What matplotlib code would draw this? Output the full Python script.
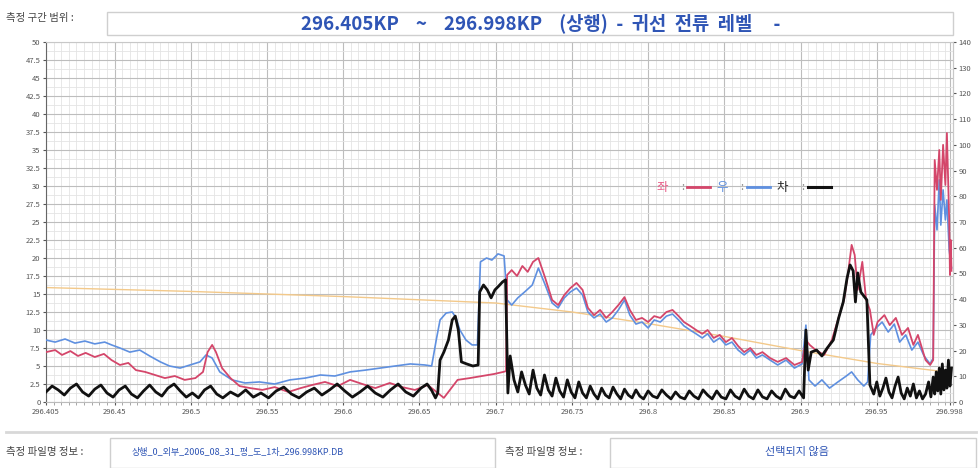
import matplotlib
matplotlib.use("Agg")
import matplotlib.pyplot as plt
from matplotlib.patches import Rectangle
from matplotlib.lines import Line2D
from matplotlib.ticker import FixedLocator, MultipleLocator, FuncFormatter

plt.rcParams['font.family'] = ['Noto Sans CJK KR', 'DejaVu Sans']

# ---- data (KP, level on the right-hand 0..140 scale) ----
red_kp = [296.405, 296.411, 296.4155, 296.421, 296.426, 296.431, 296.437, 296.443, 296.448, 296.4535,
          296.459, 296.464, 296.470, 296.4765, 296.483, 296.4895, 296.496, 296.503, 296.508, 296.511,
          296.514, 296.5165, 296.5205, 296.526, 296.532, 296.539, 296.547, 296.555, 296.564, 296.572,
          296.5795, 296.588, 296.5965, 296.6045, 296.6125, 296.621, 296.6305, 296.6385, 296.647, 296.6555,
          296.662, 296.666, 296.670, 296.675, 296.683, 296.691, 296.699, 296.705, 296.7068, 296.7075,
          296.7105, 296.714, 296.7175, 296.721, 296.7245, 296.728, 296.7325, 296.737, 296.741, 296.745,
          296.749, 296.753, 296.757, 296.7605, 296.7645, 296.7685, 296.7725, 296.7765, 296.7805, 296.7845,
          296.788, 296.792, 296.796, 296.800, 296.804, 296.808, 296.812, 296.816, 296.820, 296.8235,
          296.8275, 296.8315, 296.8355, 296.839, 296.843, 296.847, 296.851, 296.855, 296.859, 296.863,
          296.867, 296.871, 296.875, 296.880, 296.885, 296.8905, 296.896, 296.901, 296.9035, 296.906,
          296.910, 296.9155, 296.9205, 296.9245, 296.9285, 296.931, 296.9335, 296.9355, 296.9375, 296.9405,
          296.943, 296.9455, 296.948, 296.9505, 296.955, 296.9585, 296.9625, 296.9665, 296.9705, 296.974,
          296.977, 296.980, 296.982, 296.985, 296.987, 296.988, 296.9895, 296.991, 296.992, 296.9935,
          296.995, 296.996, 296.9975, 296.998, 296.9985, 296.999]
red_v = [19.4, 20.2, 18.3, 19.8, 17.9, 19.1, 17.5, 18.7, 16.3, 14.4,
         15.2, 12.4, 11.7, 10.5, 9.3, 10.1, 8.6, 9.3, 11.7, 19.4,
         22.2, 19.4, 13.2, 9.3, 6.2, 5.4, 4.7, 5.8, 3.9, 5.4,
         6.6, 7.8, 6.2, 8.6, 7.0, 5.4, 7.4, 5.8, 4.7, 6.6,
         3.5, 1.6, 4.7, 8.6, 9.3, 10.1, 10.9, 11.7, 12.0, 49.4,
         51.3, 49.0, 52.9, 50.6, 54.5, 56.0, 48.2, 39.7, 37.7, 41.6,
         44.3, 46.3, 43.6, 36.6, 33.8, 35.8, 32.7, 35.0, 37.7, 40.8,
         35.8, 31.9, 32.7, 31.1, 33.4, 32.7, 35.0, 35.8, 33.4, 31.1,
         29.6, 28.0, 26.5, 28.0, 24.9, 26.1, 23.3, 24.9, 21.8, 19.4,
         21.0, 18.3, 19.4, 17.1, 15.6, 17.1, 14.4, 15.6, 24.1, 22.2,
         20.2, 18.3, 24.1, 31.9, 39.7, 49.4, 61.1, 57.2, 43.6, 54.5,
         39.7, 35.8, 26.1, 31.1, 33.8, 29.9, 32.7, 26.1, 28.8, 22.2,
         26.1, 20.2, 16.3, 14.4, 16.3, 94.1, 82.5, 98.0, 78.6, 100.0,
         84.4, 104.6, 70.8, 49.4, 63.0, 51.0]

blue_kp = [296.405, 296.411, 296.4175, 296.424, 296.4305, 296.437, 296.4435, 296.448, 296.4535, 296.460,
           296.4665, 296.473, 296.480, 296.486, 296.493, 296.4995, 296.506, 296.510, 296.514, 296.519,
           296.527, 296.5355, 296.545, 296.555, 296.565, 296.575, 296.585, 296.5945, 296.6045, 296.6145,
           296.624, 296.634, 296.644, 296.6535, 296.658, 296.661, 296.6635, 296.6675, 296.6715, 296.674,
           296.6765, 296.6805, 296.6845, 296.688, 296.690, 296.694, 296.6975, 296.7015, 296.7055, 296.7075,
           296.7105, 296.7145, 296.719, 296.724, 296.728, 296.7325, 296.737, 296.741, 296.745, 296.749,
           296.753, 296.757, 296.7605, 296.7645, 296.7685, 296.7725, 296.7765, 296.7805, 296.7845, 296.788,
           296.792, 296.796, 296.800, 296.804, 296.808, 296.812, 296.816, 296.820, 296.8235, 296.8275,
           296.8315, 296.8355, 296.839, 296.843, 296.847, 296.851, 296.855, 296.859, 296.863, 296.867,
           296.871, 296.875, 296.880, 296.885, 296.8905, 296.896, 296.901, 296.9035, 296.9055, 296.9095,
           296.914, 296.919, 296.9245, 296.930, 296.9335, 296.9375, 296.9415, 296.944, 296.946, 296.9495,
           296.9535, 296.9575, 296.9615, 296.965, 296.969, 296.973, 296.977, 296.981, 296.985, 296.987,
           296.988, 296.9895, 296.991, 296.992, 296.9935, 296.995, 296.996, 296.9975, 296.999]
blue_v = [24.1, 23.3, 24.5, 22.9, 23.7, 22.6, 23.3, 22.2, 21.0, 19.4,
          20.2, 17.9, 15.6, 14.0, 13.2, 14.4, 15.6, 18.3, 17.1, 11.7,
          8.6, 7.4, 7.8, 7.0, 8.6, 9.3, 10.5, 10.1, 11.7, 12.4,
          13.2, 14.0, 14.8, 14.4, 14.0, 24.1, 31.9, 34.6, 35.0, 32.7,
          28.0, 24.1, 22.2, 22.2, 54.5, 56.0, 55.2, 57.6, 56.8, 39.7,
          37.7, 40.5, 42.8, 45.5, 52.1, 45.5, 38.5, 36.6, 40.5, 42.8,
          44.3, 41.6, 35.0, 32.7, 34.2, 31.1, 32.7, 35.8, 39.7, 33.8,
          30.3, 31.1, 28.8, 31.9, 31.1, 33.4, 34.2, 31.9, 29.6, 28.0,
          26.5, 24.9, 26.5, 23.3, 24.9, 22.2, 23.3, 20.2, 18.3, 20.2,
          17.1, 18.3, 16.3, 14.4, 16.3, 13.2, 14.8, 29.9, 8.6, 6.2,
          8.6, 5.4, 7.8, 10.1, 11.7, 8.6, 6.2, 7.8, 26.1, 28.8,
          31.1, 27.2, 30.3, 23.3, 26.1, 20.2, 23.3, 17.9, 14.8, 17.1,
          76.6, 66.9, 86.4, 68.8, 82.5, 70.8, 78.6, 59.1, 52.1]

black_kp = [296.405, 296.409, 296.413, 296.417, 296.421, 296.425, 296.429, 296.433, 296.437, 296.441,
            296.445, 296.449, 296.453, 296.457, 296.461, 296.465, 296.469, 296.473, 296.477, 296.481,
            296.485, 296.489, 296.493, 296.497, 296.501, 296.505, 296.509, 296.513, 296.517, 296.521,
            296.526, 296.531, 296.536, 296.541, 296.546, 296.551, 296.556, 296.561, 296.566, 296.571,
            296.576, 296.581, 296.586, 296.591, 296.596, 296.601, 296.606, 296.611, 296.616, 296.621,
            296.626, 296.631, 296.636, 296.641, 296.646, 296.651, 296.655, 296.658, 296.6605, 296.662,
            296.6635, 296.666, 296.669, 296.6715, 296.6735, 296.6755, 296.6775, 296.681, 296.685, 296.6885,
            296.6895, 296.692, 296.6945, 296.697, 296.6995, 296.702, 296.7045, 296.7065, 296.708, 296.7095,
            296.712, 296.7145, 296.717, 296.7195, 296.722, 296.7245, 296.727, 296.7295, 296.732, 296.7345,
            296.737, 296.7395, 296.742, 296.7445, 296.747, 296.7495, 296.752, 296.7545, 296.757, 296.7595,
            296.762, 296.7645, 296.767, 296.7695, 296.772, 296.7745, 296.777, 296.7795, 296.782, 296.7845,
            296.787, 296.7895, 296.792, 296.7945, 296.797, 296.800, 296.803, 296.806, 296.809, 296.812,
            296.815, 296.818, 296.821, 296.824, 296.827, 296.830, 296.833, 296.836, 296.839, 296.842,
            296.845, 296.848, 296.851, 296.854, 296.857, 296.860, 296.863, 296.866, 296.869, 296.872,
            296.875, 296.878, 296.881, 296.884, 296.887, 296.890, 296.893, 296.896, 296.899, 296.902,
            296.9035, 296.905, 296.907, 296.9105, 296.914, 296.9175, 296.9215, 296.925, 296.928, 296.9305,
            296.9325, 296.9345, 296.936, 296.9375, 296.9395, 296.9415, 296.9435, 296.9455, 296.948, 296.950,
            296.952, 296.954, 296.956, 296.958, 296.960, 296.962, 296.964, 296.966, 296.968, 296.970,
            296.972, 296.974, 296.976, 296.978, 296.980, 296.982, 296.984, 296.9855, 296.987, 296.988,
            296.989, 296.990, 296.991, 296.992, 296.993, 296.994, 296.995, 296.996, 296.997, 296.998,
            296.999]
black_v = [3.9, 6.2, 4.7, 2.7, 5.4, 7.0, 3.9, 2.3, 5.0, 6.6,
           3.5, 1.9, 4.7, 6.2, 3.1, 1.6, 4.3, 6.6, 3.9, 2.3,
           5.4, 7.0, 4.3, 1.9, 3.5, 1.6, 4.7, 6.2, 3.1, 1.6,
           3.9, 2.3, 4.7, 1.9, 3.5, 1.6, 4.3, 5.8, 3.1, 1.6,
           3.9, 5.4, 2.7, 4.7, 7.0, 4.3, 1.9, 3.9, 6.2, 3.5,
           1.9, 4.7, 7.0, 3.9, 2.3, 5.4, 7.0, 4.5, 1.6, 3.5,
           16.3, 19.4, 24.1, 31.9, 33.4, 28.0, 15.6, 14.8, 14.0, 14.4,
           42.8, 45.5, 43.6, 40.5, 43.6, 45.1, 46.7, 47.5, 3.5, 17.9,
           8.6, 3.9, 11.7, 6.6, 3.1, 12.4, 5.4, 2.7, 10.5, 4.7,
           2.3, 9.3, 4.3, 1.9, 8.6, 3.9, 1.6, 7.8, 3.5, 1.6,
           6.2, 3.1, 1.2, 5.4, 2.7, 1.6, 5.8, 3.1, 1.2, 5.0,
           2.7, 1.6, 4.7, 2.3, 1.2, 4.3, 2.3, 1.6, 4.7, 2.7,
           1.2, 3.9, 1.9, 1.2, 4.3, 2.3, 1.2, 4.7, 2.7, 1.2,
           4.3, 1.9, 1.2, 4.7, 2.3, 1.2, 5.0, 2.3, 1.2, 4.7,
           2.0, 1.2, 4.3, 2.3, 1.2, 5.0, 2.3, 1.6, 4.3, 1.6,
           28.0, 12.4, 19.4, 20.2, 17.9, 21.0, 24.1, 32.7, 38.9, 48.2,
           53.3, 51.0, 38.9, 50.2, 42.8, 41.2, 39.7, 6.6, 3.1, 7.8,
           2.3, 5.4, 9.3, 3.9, 1.6, 6.2, 9.7, 3.5, 1.2, 5.4,
           2.3, 7.0, 1.6, 4.3, 1.2, 3.1, 7.8, 2.0, 9.7, 3.1,
           11.7, 4.3, 13.2, 3.1, 14.8, 4.7, 12.4, 5.4, 16.3, 6.2,
           13.2]

trend_kp = [296.405, 296.50, 296.60, 296.70, 296.75, 296.80, 296.85, 296.90, 296.95, 296.998]
trend_v = [44.5, 43.0, 41.0, 38.5, 35.0, 30.5, 25.5, 20.0, 15.0, 11.5]

x_ticks = [296.405, 296.45, 296.5, 296.55, 296.6, 296.65, 296.7, 296.75, 296.8, 296.85, 296.9, 296.95, 296.998]
left_ticks = [i * 2.5 for i in range(21)]      # 0 .. 50
right_ticks = list(range(0, 141, 10))          # 0 .. 140

title_text = "296.405KP    ~    296.998KP    (상행)  -  귀선  전류  레벨     -"
range_label = "측정 구간 범위 :"
file_label = "측정 파일명 정보 :"
file_name = "상행_0_외부_2006_08_31_평_도_1차_296.998KP.DB"
file_label2 = "측정 파일명 정보 :"
file_name2 = "선택되지 않음"

# ---- figure ----
W, H = 979, 468
fig = plt.figure(figsize=(W / 100, H / 100), dpi=100)
fig.patch.set_facecolor("white")

def fx(px):
    return px / W

def fy(py):
    return 1 - py / H

ax = fig.add_axes([fx(46), fy(402), fx(953) - fx(46), fy(42) - fy(402)])
ax.set_xlim(296.405, 297.0)
ax.set_ylim(0, 140)
scale = 140 / 50.0

ax.plot(trend_kp, trend_v, color="#f3c98a", lw=1.0, zorder=2)
ax.plot(blue_kp, blue_v, color="#5f90e0", lw=1.2, zorder=3)
ax.plot(red_kp, red_v, color="#d4466a", lw=1.3, zorder=4)
ax.plot(black_kp, black_v, color="#111111", lw=2.0, zorder=5)

ax.xaxis.set_major_locator(FixedLocator(x_ticks))
ax.xaxis.set_minor_locator(MultipleLocator(0.005))
ax.xaxis.set_major_formatter(FuncFormatter(lambda v, p: "%g" % round(v, 3)))
ax.yaxis.set_major_locator(FixedLocator([t * scale for t in left_ticks]))
ax.yaxis.set_minor_locator(MultipleLocator(scale * 1.25))
ax.yaxis.set_major_formatter(FuncFormatter(lambda v, p: "%g" % round(v / scale, 2)))

ax.grid(which="major", color="#bdbdbd", lw=0.8)
ax.grid(which="minor", color="#e4e4e4", lw=0.6)
ax.set_axisbelow(True)

ax.tick_params(axis="both", which="major", labelsize=5.5, colors="#555555", length=2, pad=2)
ax.tick_params(axis="x", which="minor", length=2, color="#999999")
ax.tick_params(axis="y", which="minor", length=0)
for s in ["top", "right"]:
    ax.spines[s].set_color("#c8c8c8")
ax.spines["left"].set_color("#666666")
ax.spines["bottom"].set_color("#bbbbbb")

sec = ax.secondary_yaxis("right")
sec.yaxis.set_major_locator(FixedLocator(right_ticks))
sec.yaxis.set_major_formatter(FuncFormatter(lambda v, p: "%d" % v))
sec.tick_params(labelsize=5.5, colors="#555555", length=2, pad=2)
sec.spines["right"].set_color("#c8c8c8")

# legend row inside the plot
leg_y = fy(187)
fig.text(fx(657), leg_y, "좌", color="#e8608a", fontsize=9, va="center")
fig.text(fx(681), leg_y, ":", color="#888888", fontsize=8, va="center")
fig.add_artist(Line2D([fx(687), fx(710)], [leg_y, leg_y], color="#d4466a", lw=2))
fig.text(fx(716), leg_y, "우", color="#5f90e0", fontsize=9, va="center")
fig.text(fx(740), leg_y, ":", color="#888888", fontsize=8, va="center")
fig.add_artist(Line2D([fx(747), fx(770)], [leg_y, leg_y], color="#5f90e0", lw=2))
fig.text(fx(777), leg_y, "차", color="#222222", fontsize=9, va="center")
fig.text(fx(801), leg_y, ":", color="#888888", fontsize=8, va="center")
fig.add_artist(Line2D([fx(808), fx(831)], [leg_y, leg_y], color="#111111", lw=2.2))

# header
fig.add_artist(Rectangle((fx(107), fy(35)), fx(953) - fx(107), fy(12) - fy(35),
                         transform=fig.transFigure, facecolor="white", edgecolor="#cfcfcf", lw=1))
fig.text(fx(6), fy(18), range_label, fontsize=7.5, color="#444444", va="center")
fig.text(fx(541), fy(23), title_text, fontsize=13.5, fontweight="bold", color="#2f55b5",
         ha="center", va="center")

# footer
fig.add_artist(Line2D([fx(6), fx(976)], [fy(432), fy(432)], color="#d8d8d8", lw=2))
fig.add_artist(Rectangle((fx(110), fy(468)), fx(495) - fx(110), fy(438) - fy(468),
                         transform=fig.transFigure, facecolor="white", edgecolor="#cfcfcf", lw=1))
fig.add_artist(Rectangle((fx(610), fy(468)), fx(976) - fx(610), fy(438) - fy(468),
                         transform=fig.transFigure, facecolor="white", edgecolor="#cfcfcf", lw=1))
fig.text(fx(6), fy(452), file_label, fontsize=7.5, color="#444444", va="center")
fig.text(fx(132), fy(452), file_name, fontsize=6.5, color="#2f55b5", va="center")
fig.text(fx(505), fy(452), file_label2, fontsize=7.5, color="#444444", va="center")
fig.text(fx(797), fy(452), file_name2, fontsize=8, color="#2f55b5", va="center", ha="center")

fig.savefig("out.png", dpi=100)
